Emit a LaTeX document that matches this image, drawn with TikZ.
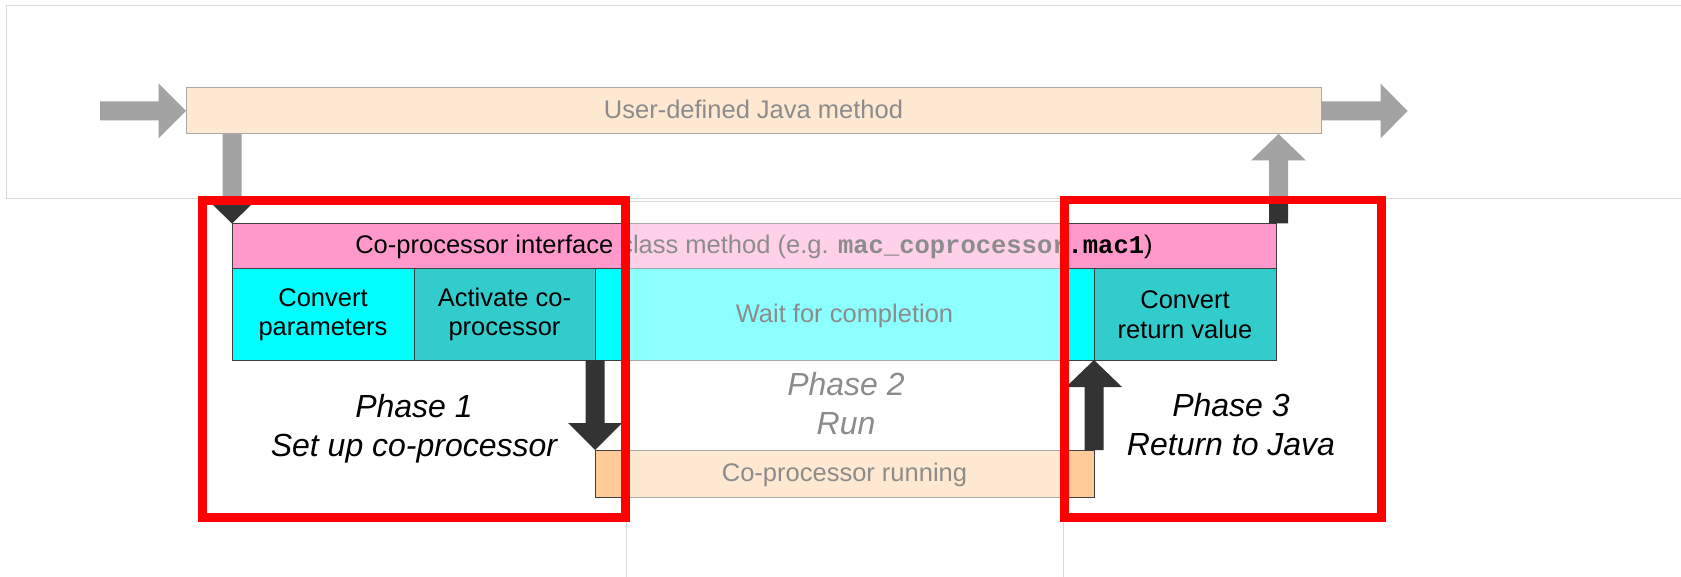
\documentclass[tikz,border=0pt]{standalone}
\usepackage{fontspec}
\setmainfont{Liberation Sans}
\newfontfamily\codefont{Liberation Mono}
\usetikzlibrary{calc}

\definecolor{ink}{HTML}{333333}
\definecolor{edge}{HTML}{404040}
\definecolor{peach}{HTML}{FFCC99}
\definecolor{rose}{HTML}{FF99CC}
\definecolor{aqua}{HTML}{00FFFF}
\definecolor{seafoam}{HTML}{33CCCC}
\definecolor{veil}{HTML}{D9D9D9}
\definecolor{framered}{HTML}{FF0000}

% block arrow: #1 fill, #2 from, #3 to, #4 shaft half width, #5 head half width, #6 head length
\newcommand\blockarrow[6]{%
  \path ($(#3)!#6!(#2)$) coordinate (ba-neck);
  \fill[#1] ($(#2)!#4!90:(#3)$) -- ($(ba-neck)!#4!90:(#3)$) -- ($(ba-neck)!#5!90:(#3)$)
    -- (#3) -- ($(ba-neck)!#5!-90:(#3)$) -- ($(ba-neck)!#4!-90:(#3)$)
    -- ($(#2)!#4!-90:(#3)$) -- cycle;}

\begin{document}
\begin{tikzpicture}[x=1pt,y=-1pt,
  box/.style={draw=edge, line width=1pt, inner sep=0pt, outer sep=0pt,
    anchor=north west, font=\fontsize{25.5}{29.5}\selectfont, align=center},
  oneline/.style={text height=20.4pt, text depth=5.1pt},
  phase/.style={font=\fontsize{32}{39}\selectfont\itshape, align=center, inner sep=0pt},
  veilbox/.style={fill=white, fill opacity=0.55, draw=veil, line width=1pt},
  redframe/.style={draw=framered, line width=8.5pt},
]
\useasboundingbox (0,0) rectangle (1681,577);
\fill[white] (0,0) rectangle (1681,577);

% Java level
\node[box, fill=peach, minimum width=1135pt, minimum height=46pt, oneline]
  (java) at (186,88) {User-defined Java method};

% interface method and its steps
\node[box, fill=rose, minimum width=1044pt, minimum height=45.5pt, oneline]
  (iface) at (232,223.5)
  {Co-processor interface class method (e.g. {\codefont\bfseries mac\_coprocessor.mac1})};
\node[box, fill=aqua, minimum width=182pt, minimum height=91pt]
  (conv) at (232,269) {Convert\\parameters};
\node[box, fill=seafoam, minimum width=181pt, minimum height=91pt]
  (act) at (414,269) {Activate co-\\processor};
\node[box, fill=aqua, minimum width=499pt, minimum height=91pt, oneline]
  (wait) at (595,269) {Wait for completion};
\node[box, fill=seafoam, minimum width=182pt, minimum height=91pt]
  (ret) at (1094,269) {Convert\\return value};
\node[box, fill=peach, minimum width=499pt, minimum height=47pt, oneline]
  (run) at (595,450) {Co-processor running};

% phase captions
\node[phase] (ph1) at (414,429.2) {Phase 1\\Set up co-processor};
\node[phase] (ph2) at (846,403.8) {Phase 2\\Run};
\node[phase] (ph3) at (1231,424.8) {Phase 3\\Return to Java};

% control flow
\coordinate (inStart) at (100,111);
\coordinate (outEnd) at (1407.5,111);
\coordinate (callTop) at (java.south -| iface.north west);
\coordinate (retBase) at ($(iface.north east)+(2.5,0)$);
\coordinate (retTop) at (retBase |- java.south);

\blockarrow{ink}{inStart}{java.west}{9.5pt}{27.5pt}{27.5pt}
\blockarrow{ink}{java.east}{outEnd}{9.5pt}{27.5pt}{27pt}
\blockarrow{ink}{callTop}{iface.north west}{9.5pt}{20.5pt}{20pt}
\blockarrow{ink}{retBase}{retTop}{9.5pt}{27.5pt}{26.5pt}
\blockarrow{ink}{act.south east}{run.north west}{9.5pt}{27pt}{27pt}
\blockarrow{ink}{run.north east}{ret.south west}{9.5pt}{28pt}{27pt}

% faded regions
\path[veilbox] (6.5,5.7) rectangle (1720,199);
\path[veilbox] (626.5,201.5) rectangle (1063.5,620);

% phase frames
\draw[redframe] (202.5,200.5) rectangle (625.5,517.5);
\draw[redframe] (1064.5,200) rectangle (1381.5,517.5);
\end{tikzpicture}
\end{document}
